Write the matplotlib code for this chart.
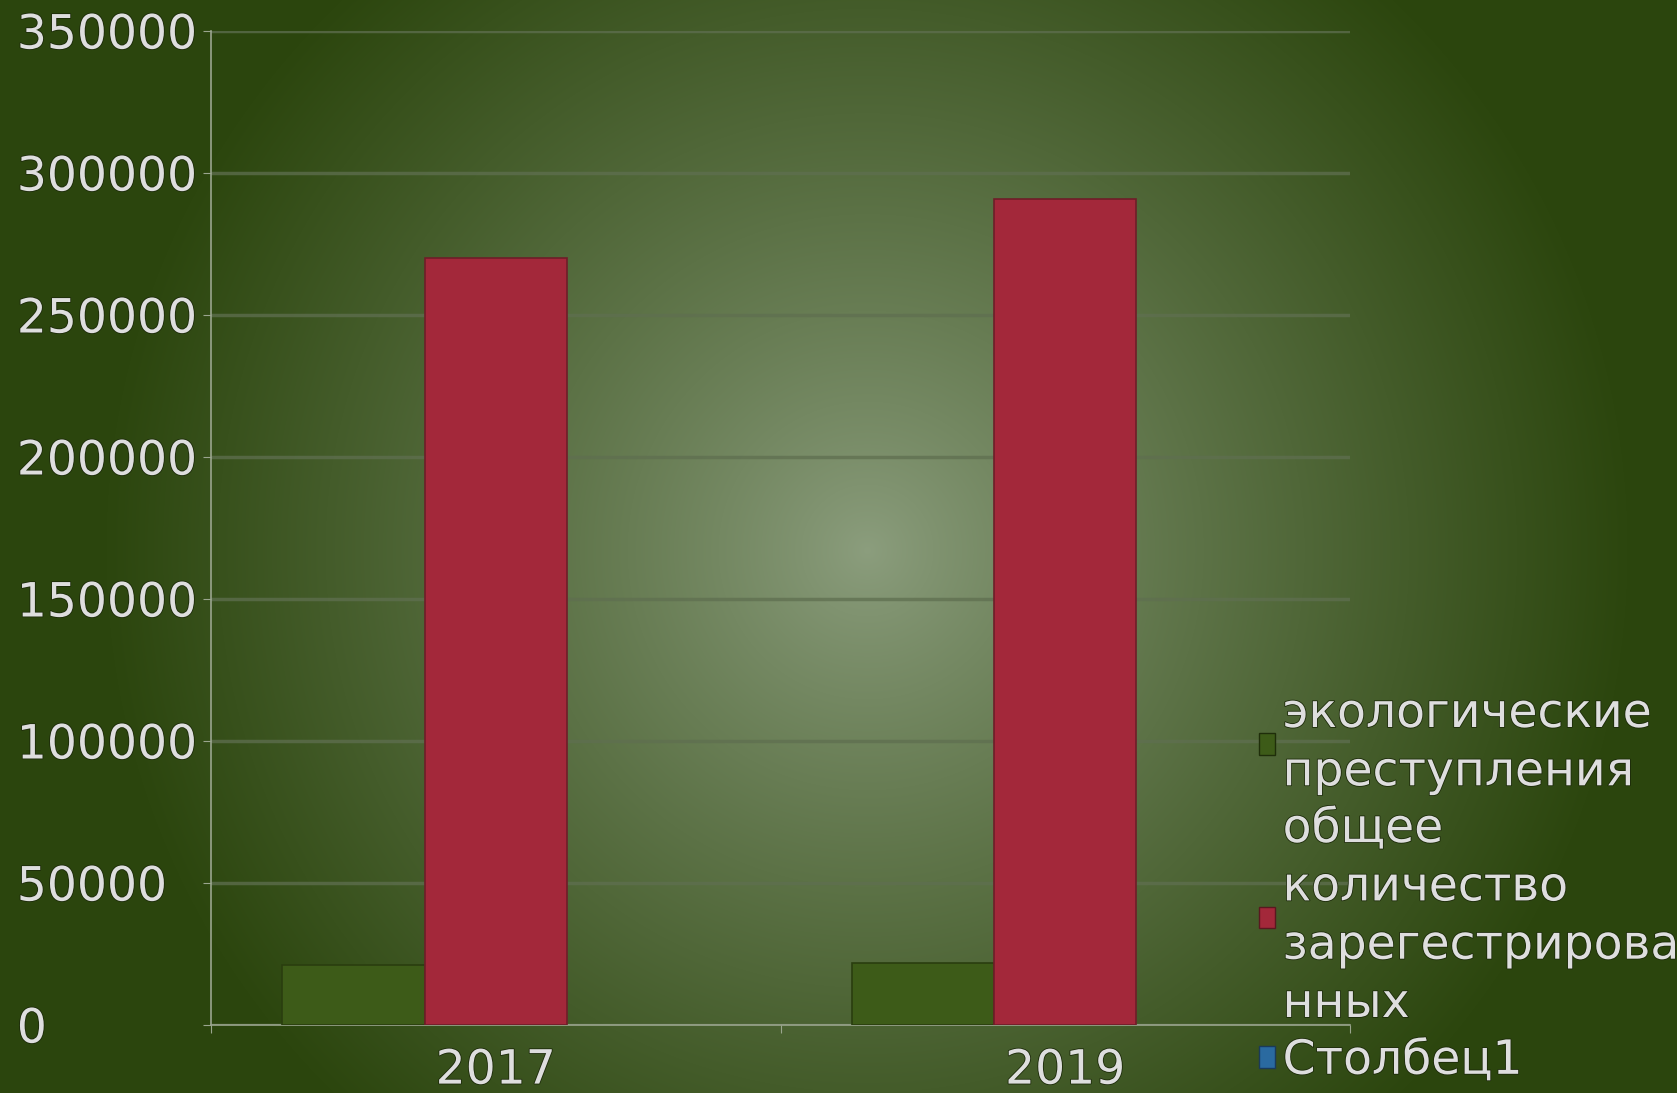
import numpy as np
import matplotlib
matplotlib.use('Agg')
import matplotlib.pyplot as plt
import matplotlib.patheffects as pe
from matplotlib.patches import Patch

years = ['2017', '2019']
eco_crimes = [21000, 22000]
total_registered = [270000, 291000]
column1 = [0, 0]
series_names = ['экологические\nпреступления',
                'общее\nколичество\nзарегестрирова\nнных',
                'Столбец1']
y_ticks = [0, 50000, 100000, 150000, 200000, 250000, 300000, 350000]

W, H = 1677, 1093
text_col = '#dedede'
shadow = [pe.withStroke(linewidth=1.2, foreground='#1c2a0a')]

fig = plt.figure(figsize=(W / 100, H / 100), dpi=100)

# radial background
bg = fig.add_axes([0, 0, 1, 1], zorder=-1)
yy, xx = np.mgrid[0:H, 0:W]
r = np.hypot(xx - 867, yy - 550)
t = np.clip(r / 760, 0, 1) ** 0.85
c0 = np.array([140, 158, 126]) / 255
c1 = np.array([44, 70, 14]) / 255
img = c0[None, None, :] * (1 - t[..., None]) + c1[None, None, :] * t[..., None]
bg.imshow(img, aspect='auto', extent=[0, 1, 0, 1])
bg.axis('off')

ax = fig.add_axes([211 / W, 1 - 1025 / H, (1350 - 211) / W, (1025 - 31) / H])
ax.set_facecolor('none')

x = np.arange(len(years))
w = 0.25
ax.bar(x - w, eco_crimes, w, color='#3d5b18', edgecolor='#2a3e0f', linewidth=1.2, zorder=3)
ax.bar(x, total_registered, w, color='#a3283a', edgecolor='#6e1e28', linewidth=1.2, zorder=3)
ax.bar(x + w, column1, w, color='#2a6aa0', linewidth=0, zorder=3)

ax.set_xlim(-0.5, 1.5)
ax.set_ylim(0, 350000)
ax.set_yticks(y_ticks)
ax.set_yticklabels([str(v) for v in y_ticks])
ax.grid(axis='y', color='#5f6f50', alpha=0.75, linewidth=2.5, zorder=1)

ax.set_xticks([-0.5, 0.5, 1.5])
ax.set_xticklabels(['', '', ''])
ax.set_xticks(x, minor=True)
ax.set_xticklabels(years, minor=True)

for s in ['top', 'right']:
    ax.spines[s].set_visible(False)
for s in ['left', 'bottom']:
    ax.spines[s].set_color('#9aa58e')
    ax.spines[s].set_linewidth(1.2)

ax.tick_params(axis='y', length=5.8, color='#9aa58e', pad=134, labelsize=34, labelcolor=text_col)
ax.tick_params(axis='x', which='major', length=5.8, color='#9aa58e')
ax.tick_params(axis='x', which='minor', length=0, pad=17, labelsize=34, labelcolor=text_col)
for lab in ax.get_yticklabels():
    lab.set_horizontalalignment('left')
    lab.set_path_effects(shadow)
for lab in ax.get_xticklabels(minor=True):
    lab.set_path_effects(shadow)

handles = [Patch(facecolor='#3d5b18', edgecolor='#1f2e0a'),
           Patch(facecolor='#a3283a', edgecolor='#5a1820'),
           Patch(facecolor='#2a6aa0', edgecolor='#1a3a5a')]
leg = ax.legend(handles, series_names, loc='upper left',
                bbox_to_anchor=(1259 / W, 1 - 692 / H), bbox_transform=fig.transFigure,
                frameon=False, fontsize=34, labelspacing=0.25, borderpad=0,
                handlelength=0.33, handleheight=0.33, handletextpad=0.17,
                borderaxespad=0)
for txt in leg.get_texts():
    txt.set_color(text_col)
    txt.set_linespacing(1.38)
    txt.set_path_effects(shadow)

fig.savefig('out.png', dpi=100)
